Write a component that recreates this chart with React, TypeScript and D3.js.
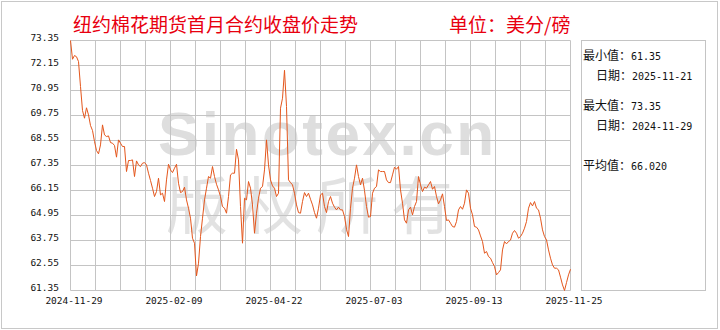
import React from 'react';
import * as d3 from 'd3';

// ---- data ----
const prices: number[] = [
  73.35, 72.45, 72.63, 72.57, 72.34, 71.14, 69.99, 69.62, 70.12, 69.78,
  69.27, 69.03, 68.50, 68.07, 67.91, 68.34, 69.30, 68.82, 68.74, 68.77,
  68.45, 68.42, 68.31, 67.75, 68.58, 68.42, 68.26, 68.26, 67.06, 67.59,
  67.59, 67.62, 66.82, 67.57, 67.38, 67.30, 67.46, 67.49, 67.38, 66.98,
  66.63, 66.26, 65.86, 66.10, 66.74, 65.94, 66.02, 65.62, 66.66, 67.41,
  67.14, 67.01, 67.22, 67.41, 66.50, 66.05, 66.10, 66.31, 65.70, 65.30,
  64.82, 63.86, 63.62, 62.05, 62.66, 63.94, 64.82, 65.70, 66.26, 66.82,
  66.74, 67.30, 66.82, 66.45, 66.18, 65.86, 65.38, 65.30, 65.06, 65.86,
  66.90, 66.98, 66.98, 68.13, 67.62, 65.38, 63.62, 65.78, 65.70, 66.58,
  66.26, 65.46, 64.10, 65.06, 65.78, 66.26, 66.34, 67.14, 68.58, 67.38,
  66.66, 66.37, 66.26, 65.86, 66.02, 70.10, 70.58, 71.92, 70.18, 66.66,
  66.53, 66.42, 66.02, 65.46, 65.09, 65.06, 65.62, 66.05, 65.86, 66.02,
  65.73, 65.46, 65.09, 64.82, 65.30,
  65.94, 66.02, 65.38, 65.09, 65.62, 65.86, 65.54, 65.35, 65.22, 65.35,
  65.22, 65.22, 64.90, 64.29, 63.94, 65.30, 66.26, 66.74, 67.38, 66.82,
  66.42, 66.74, 66.15, 65.38, 64.87, 64.90, 66.02, 66.26, 66.34, 67.14,
  67.06, 67.06, 67.06, 66.66, 66.53, 66.53, 66.90, 67.27, 67.17, 67.30,
  66.18, 65.54, 64.74, 64.58, 65.22, 65.35, 64.98, 65.38, 65.62, 66.82,
  66.42, 66.10, 66.31, 66.26, 66.42, 66.58, 66.21, 66.34, 65.86, 65.51,
  65.70, 65.99, 65.38, 64.71, 64.74, 64.58, 64.42, 64.39, 64.66, 65.22,
  65.38, 65.25, 65.54, 66.18, 66.02, 65.30, 64.98, 64.42, 64.39, 64.26,
  63.97, 63.70, 63.14, 63.22, 62.98, 62.90, 62.69, 62.50, 62.10, 62.21,
  62.34, 63.30, 63.70, 63.59, 63.70, 63.77, 64.10, 64.23, 64.10, 63.86,
  63.94, 64.10, 64.34, 64.66, 65.30, 65.57, 65.41, 65.62, 65.30, 65.22,
  64.82, 64.26, 63.94, 63.78, 63.30, 62.90, 62.58, 62.42, 62.42, 62.34,
  61.99, 61.62, 61.35, 61.73, 62.10, 62.37,
];

const yTicks: number[] = [73.35, 72.15, 70.95, 69.75, 68.55, 67.35, 66.15, 64.95, 63.75, 62.55, 61.35];
const xTickLabels: string[] = ['2024-11-29', '2025-02-09', '2025-04-22', '2025-07-03', '2025-09-13', '2025-11-25'];
const xTickIndex: number[] = [0, 50, 100, 150, 200, 250];

const titleText = '纽约棉花期货首月合约收盘价走势';
const unitText = '单位：美分/磅';
const watermarkLines: string[] = ['Sinotex.cn', '版权所有'];
const statLabels: string[] = ['最小值：', '日期：', '最大值：', '日期：', '平均值：'];
const statValues: string[] = ['61.35', '2025-11-21', '73.35', '2024-11-29', '66.020'];
const statIndent: boolean[] = [false, true, false, true, false];
const statRow: number[] = [0, 1, 2.5, 3.5, 5.5];

const W = 720;
const H = 330;
const plot = { left: 70.5, right: 570.5, top: 40.5, bottom: 290.5 };
const panel = { left: 581.5, right: 705.5 };

const MONO = '"DejaVu Sans Mono", monospace';
const CJK = '"Noto Sans CJK SC", sans-serif';
const GRID = '#c4c4c4';

export default function App() {
  const x = d3.scaleLinear().domain([0, prices.length - 1]).range([plot.left, plot.right]);
  const y = d3.scaleLinear().domain([d3.min(yTicks)!, d3.max(yTicks)!]).range([plot.bottom, plot.top]);
  const line = d3
    .line<number>()
    .x((_, i) => x(i))
    .y((d) => y(d));
  const vGrid = d3.range(0, 21).map((k) => plot.left + (k * (plot.right - plot.left)) / 20);

  return (
    <svg
      width={W}
      height={H}
      style={{ position: 'absolute', left: 0, top: 0, background: '#fff' }}
    >
      <rect x={0} y={0} width={W} height={H} fill="#fff" />
      <rect x={1.5} y={1.5} width={716} height={327} fill="none" stroke="#c8c8c8" />

      {/* watermark (two lines in one text block) */}
      <text>
        <tspan
          x={158}
          y={155}
          fontFamily='"Liberation Sans", Arial, sans-serif'
          fontWeight="bold"
          fontSize={62}
          letterSpacing={2.5}
          fill="#dedede"
        >
          {watermarkLines[0]}
        </tspan>
        <tspan x={166} y={229} fontFamily={CJK} fontWeight={400} fontSize={62} letterSpacing={13} fill="#e2e2e2">
          {watermarkLines[1]}
        </tspan>
      </text>

      {/* grid */}
      {yTicks.map((t) => (
        <line key={'h' + t} x1={plot.left} x2={plot.right} y1={y(t)} y2={y(t)} stroke={GRID} />
      ))}
      {vGrid.map((gx, k) => (
        <line key={'v' + k} x1={gx} x2={gx} y1={plot.top} y2={plot.bottom} stroke={GRID} />
      ))}

      {/* y labels */}
      {yTicks.map((t) => (
        <text key={'yl' + t} x={59} y={y(t)} textAnchor="end" fontFamily={MONO} fontSize={9.5} fill="#111">
          {t.toFixed(2)}
        </text>
      ))}

      {/* x labels */}
      {xTickIndex.map((idx, k) => (
        <text
          key={'xl' + k}
          x={x(idx) + 3.5}
          y={304}
          textAnchor="middle"
          fontFamily={MONO}
          fontSize={9.5}
          fill="#111"
        >
          {xTickLabels[k]}
        </text>
      ))}

      {/* price line */}
      <path d={line(prices) || ''} fill="none" stroke="#e4561c" strokeWidth={1} strokeLinejoin="round" />

      {/* title */}
      <text x={73} y={32} fontFamily={CJK} fontSize={19} fill="#e8000f">
        {titleText}
      </text>
      <text x={449} y={32} fontFamily={CJK} fontSize={19} fill="#e8000f">
        {unitText}
      </text>

      {/* stats panel */}
      <rect
        x={panel.left}
        y={plot.top}
        width={panel.right - panel.left}
        height={plot.bottom - plot.top}
        fill="none"
        stroke={GRID}
      />
      {statLabels.map((lab, k) => (
        <text key={'st' + k} x={statIndent[k] ? 596 : 583} y={60 + statRow[k] * 20} fill="#111">
          <tspan fontFamily={CJK} fontSize={12}>
            {lab}
          </tspan>
          <tspan fontFamily={MONO} fontSize={10}>
            {statValues[k]}
          </tspan>
        </text>
      ))}
    </svg>
  );
}
